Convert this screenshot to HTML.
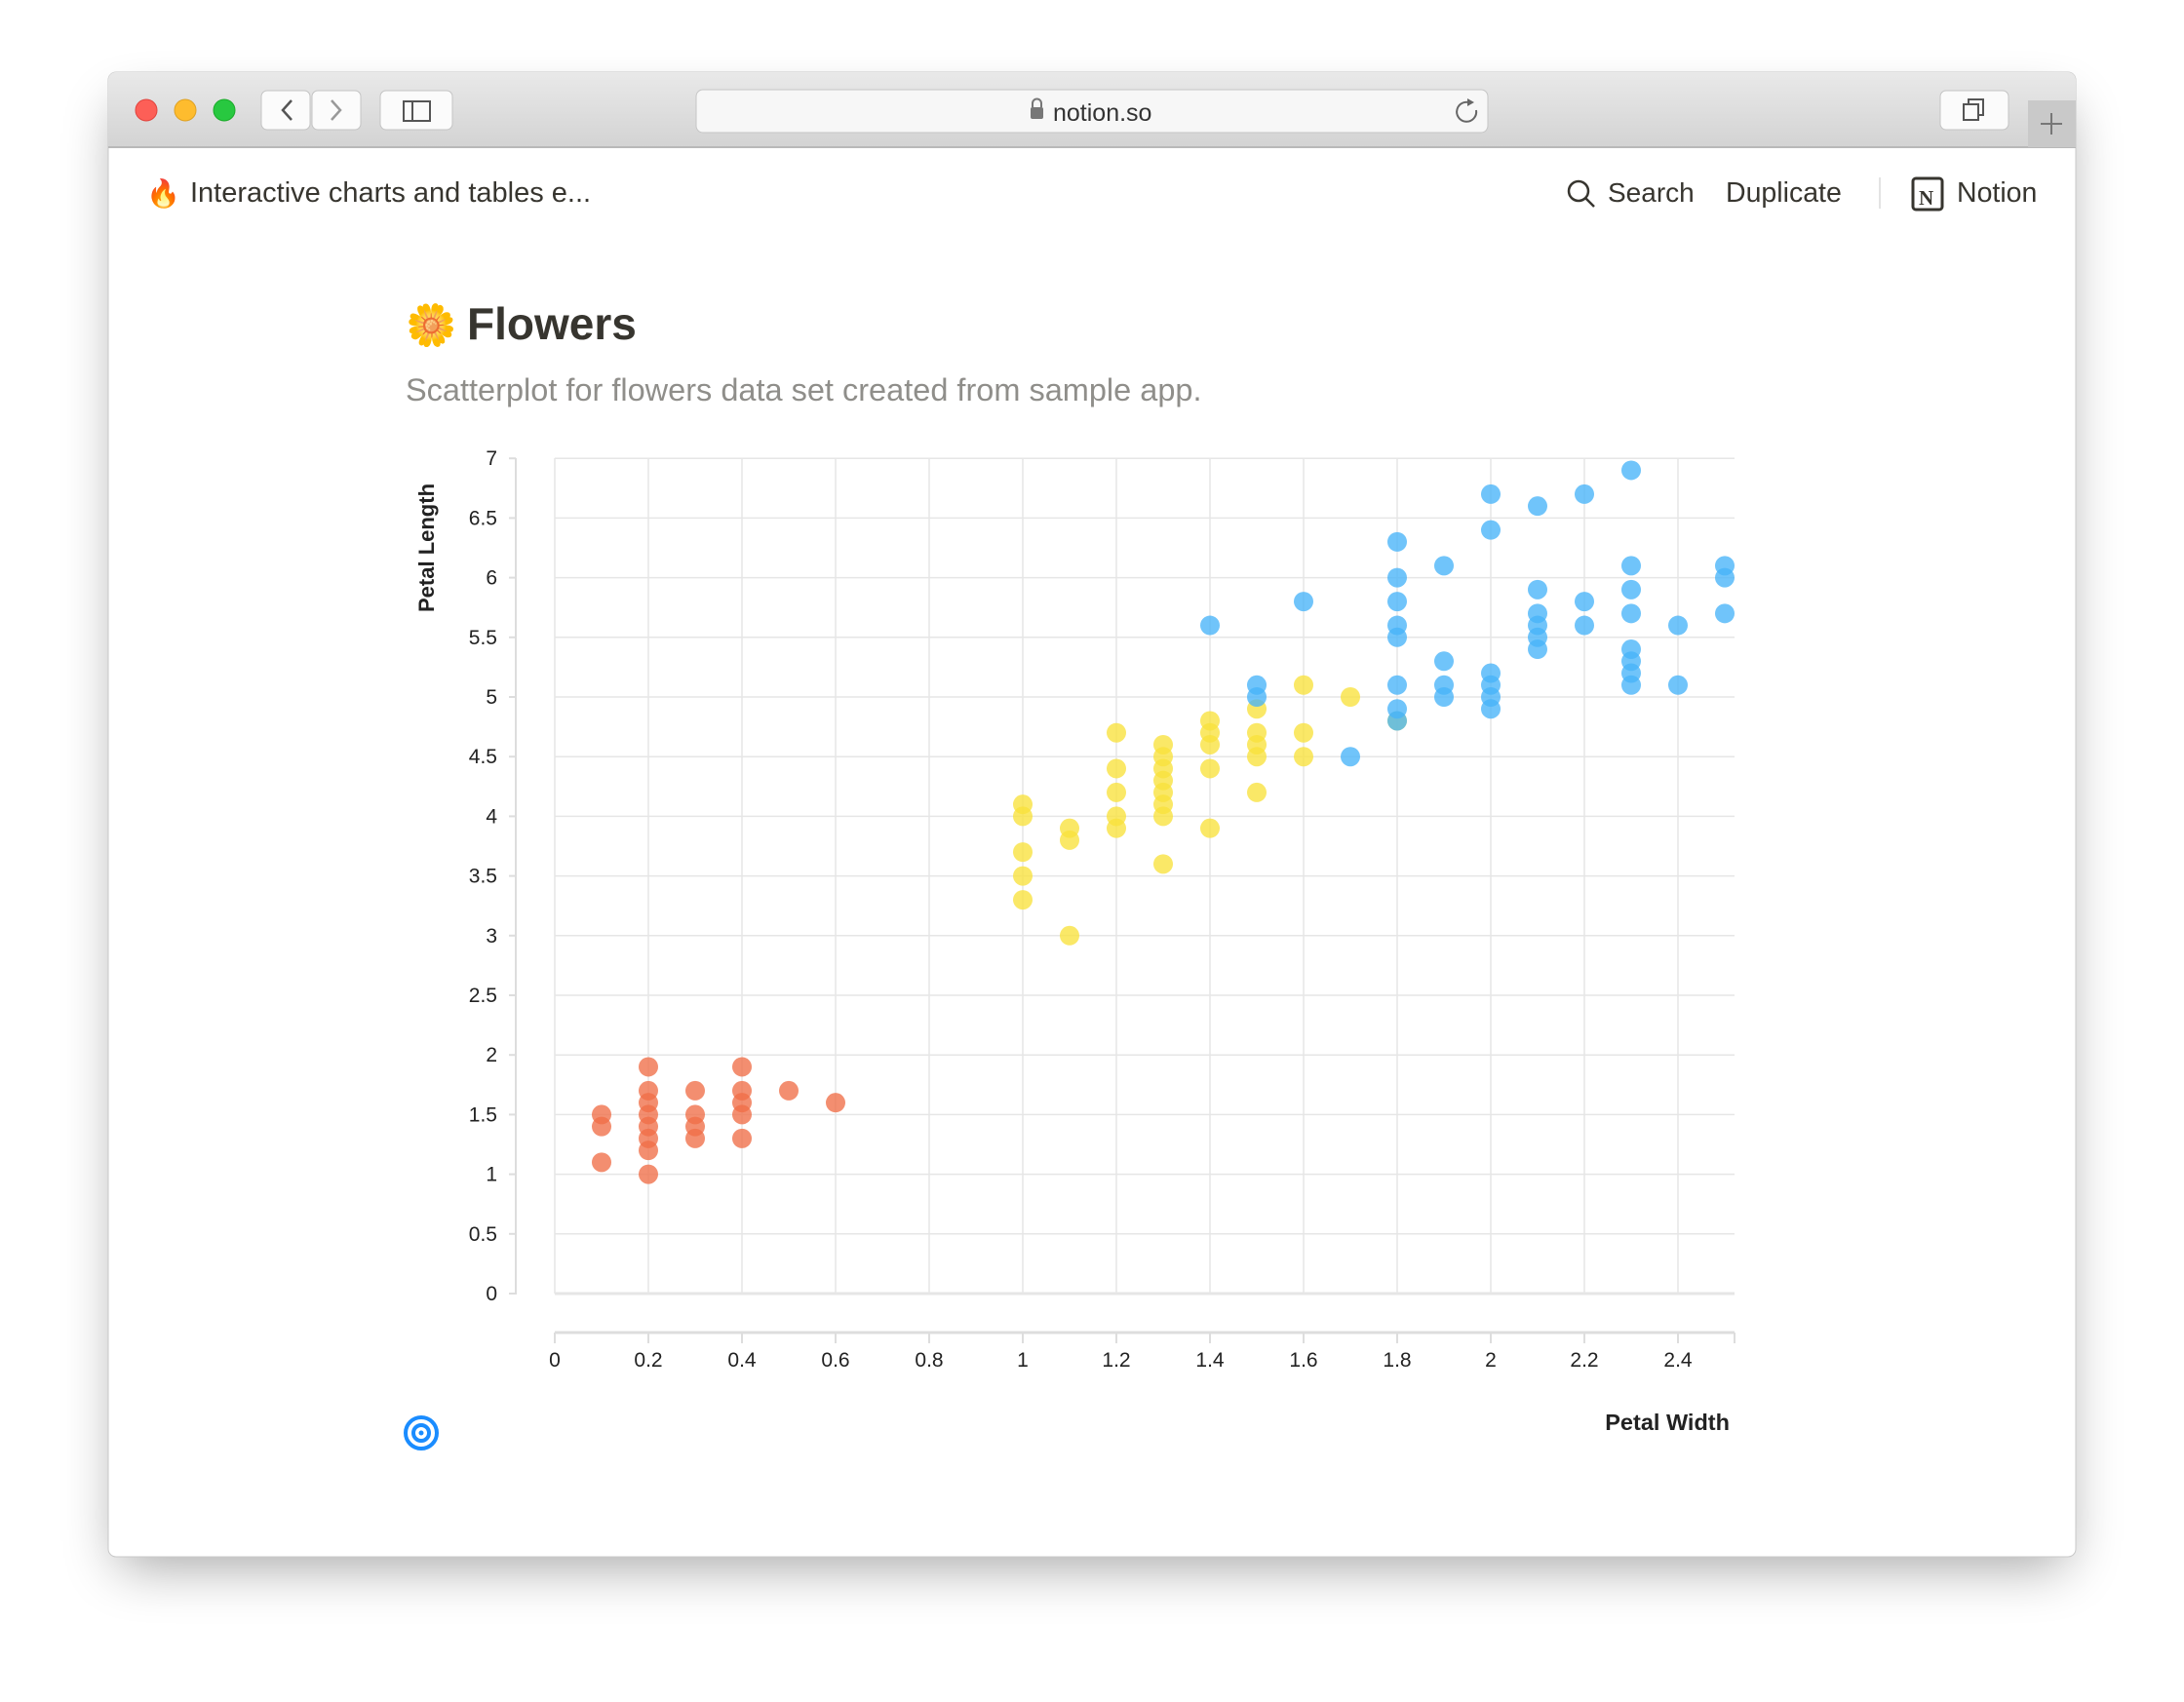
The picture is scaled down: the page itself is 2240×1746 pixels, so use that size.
<!DOCTYPE html>
<html><head><meta charset="utf-8"><style>
body{margin:0;width:2240px;height:1746px;background:#fff;overflow:hidden;font-family:"Liberation Sans",sans-serif;}
</style></head><body>
<svg width="2240" height="1746" xmlns="http://www.w3.org/2000/svg" style="position:absolute;left:0;top:0">
<defs>
<filter id="sh" x="-10%" y="-10%" width="120%" height="130%"><feGaussianBlur stdDeviation="28"/></filter>
<linearGradient id="tb" x1="0" y1="0" x2="0" y2="1"><stop offset="0" stop-color="#e9e9e9"/><stop offset="1" stop-color="#d3d3d3"/></linearGradient>
</defs>
<rect x="121" y="110" width="1998" height="1497" fill="#000" opacity="0.35" filter="url(#sh)"/>
<rect x="111" y="74" width="2018" height="1523" rx="8" fill="#fff" stroke="#c8c8c8"/>
<path d="M111 151 V82 a8 8 0 0 1 8 -8 H2121 a8 8 0 0 1 8 8 V151 Z" fill="url(#tb)"/>
<line x1="111" y1="151" x2="2129" y2="151" stroke="#b8b8b8" stroke-width="2"/>
<circle cx="150" cy="113" r="11" fill="#fd5f57" stroke="#e0443e"/>
<circle cx="190" cy="113" r="11" fill="#febc2e" stroke="#dea123"/>
<circle cx="230" cy="113" r="11" fill="#28c840" stroke="#1aab29"/>
<rect x="268" y="93" width="50" height="40" rx="6" fill="#fbfbfb" stroke="#c4c4c4"/>
<rect x="320" y="93" width="50" height="40" rx="6" fill="#fbfbfb" stroke="#c4c4c4"/>
<path d="M299 103 L290 113 L299 123" fill="none" stroke="#555" stroke-width="2.5"/>
<path d="M340 103 L349 113 L340 123" fill="none" stroke="#999" stroke-width="2.5"/>
<rect x="390" y="93" width="74" height="40" rx="6" fill="#fbfbfb" stroke="#c4c4c4"/>
<rect x="414" y="104" width="27" height="20" fill="none" stroke="#555" stroke-width="2"/><line x1="423" y1="104" x2="423" y2="124" stroke="#555" stroke-width="2"/>
<rect x="714" y="92" width="812" height="44" rx="7" fill="#f7f7f7" stroke="#c6c6c6"/>
<rect x="1057" y="110" width="13" height="12" rx="2" fill="#777"/><path d="M1059 110 v-4 a4.5 4.5 0 0 1 9 0 v4" fill="none" stroke="#777" stroke-width="2"/>
<text x="1080" y="124" font-size="25" fill="#333">notion.so</text>
<path d="M1509 106 a10 10 0 1 0 5 7" fill="none" stroke="#666" stroke-width="2"/><path d="M1505 101 l7 4 -7 4z" fill="#666"/>
<rect x="1990" y="93" width="70" height="40" rx="6" fill="#fbfbfb" stroke="#c4c4c4"/>
<rect x="2014" y="107" width="15" height="16" fill="none" stroke="#555" stroke-width="2"/><path d="M2019 107 v-5 h15 v16 h-5" fill="none" stroke="#555" stroke-width="2"/>
<rect x="2080" y="103" width="49" height="48" fill="#c9c9c9"/>
<path d="M2104 116 v22 M2093 127 h22" stroke="#777" stroke-width="2"/>
<text x="150" y="208" font-size="28">🔥</text>
<text x="195" y="207" font-size="29" fill="#37352f">Interactive charts and tables e...</text>
<circle cx="1619" cy="196" r="10" fill="none" stroke="#37352f" stroke-width="2.5"/><line x1="1626" y1="203" x2="1635" y2="212" stroke="#37352f" stroke-width="2.5"/>
<text x="1649" y="207" font-size="28" fill="#37352f">Search</text>
<text x="1770" y="207" font-size="28.5" fill="#37352f">Duplicate</text>
<line x1="1928" y1="182" x2="1928" y2="214" stroke="#e3e3e3" stroke-width="2"/>
<rect x="1962" y="183" width="30" height="32" rx="3" fill="#fff" stroke="#37352f" stroke-width="3"/>
<text x="1968" y="210" font-size="21" font-weight="bold" font-family="Liberation Serif" fill="#37352f">N</text>
<text x="2007" y="207" font-size="28.5" fill="#37352f">Notion</text>
<text x="416" y="348" font-size="42">🌼</text>
<text x="479" y="348" font-size="46" font-weight="bold" fill="#37352f">Flowers</text>
<text x="416" y="411" font-size="32.5" fill="#8f8e8a">Scatterplot for flowers data set created from sample app.</text>
<g id="chart"></g>
<text transform="translate(445 562) rotate(-90)" text-anchor="middle" font-size="22" font-weight="bold" fill="#222">Petal Length</text>
<text x="1774" y="1467" text-anchor="end" font-size="23.5" font-weight="bold" fill="#222">Petal Width</text>
<circle cx="432" cy="1470" r="16" fill="none" stroke="#1a8cff" stroke-width="4"/>
<circle cx="432" cy="1470" r="8" fill="none" stroke="#1a8cff" stroke-width="4"/>
<circle cx="432" cy="1470" r="2.5" fill="#1a8cff"/>
</svg>
<script>
var g=document.getElementById('chart'),ns='http://www.w3.org/2000/svg';
function el(t,a){var e=document.createElementNS(ns,t);for(var k in a)e.setAttribute(k,a[k]);g.appendChild(e);return e;}
var X0=569,XS=480,Y0=1327,YS=122.4,XR=1779;
function px(v){return X0+v*XS;} function py(v){return Y0-v*YS;}
for(var i=0;i<=14;i++){var v=i*0.5,y=py(v);
 el('line',{x1:X0,x2:XR,y1:y,y2:y,stroke:'#e6e6e6','stroke-width':(i==0?3:1.5)});
 el('line',{x1:522,x2:529,y1:y,y2:y,stroke:'#ddd','stroke-width':2});
 var t=el('text',{x:510,y:y+7,'text-anchor':'end','font-size':21,fill:'#222'});t.textContent=String(v);}
el('line',{x1:529,x2:529,y1:470,y2:1328,stroke:'#ddd','stroke-width':2});
for(var i=0;i<=12;i++){var v=Math.round(i*0.2*10)/10,x=px(v);
 el('line',{x1:x,x2:x,y1:470,y2:1327,stroke:'#e6e6e6','stroke-width':1.5});
 el('line',{x1:x,x2:x,y1:1367,y2:1378,stroke:'#ddd','stroke-width':2});
 var t=el('text',{x:x,y:1402,'text-anchor':'middle','font-size':21,fill:'#222'});t.textContent=String(v);}
el('line',{x1:XR,x2:XR,y1:1367,y2:1378,stroke:'#ddd','stroke-width':2});
el('line',{x1:X0,x2:XR,y1:1367,y2:1367,stroke:'#ddd','stroke-width':3});
var s="1.4,.2;1.4,.2;1.3,.2;1.5,.2;1.4,.2;1.7,.4;1.4,.3;1.5,.2;1.4,.2;1.5,.1;1.5,.2;1.6,.2;1.4,.1;1.1,.1;1.2,.2;1.5,.4;1.3,.4;1.4,.3;1.7,.3;1.5,.3;1.7,.2;1.5,.4;1.0,.2;1.7,.5;1.9,.2;1.6,.2;1.6,.4;1.5,.2;1.4,.2;1.6,.2;1.6,.2;1.5,.4;1.5,.1;1.4,.2;1.5,.2;1.2,.2;1.3,.2;1.4,.1;1.3,.2;1.5,.2;1.3,.3;1.3,.3;1.3,.2;1.6,.6;1.9,.4;1.4,.3;1.6,.2;1.4,.2;1.5,.2;1.4,.2";
var ve="4.7,1.4;4.5,1.5;4.9,1.5;4.0,1.3;4.6,1.5;4.5,1.3;4.7,1.6;3.3,1.0;4.6,1.3;3.9,1.4;3.5,1.0;4.2,1.5;4.0,1.0;4.7,1.4;3.6,1.3;4.4,1.4;4.5,1.5;4.1,1.0;4.5,1.5;3.9,1.1;4.8,1.8;4.0,1.3;4.9,1.5;4.7,1.2;4.3,1.3;4.4,1.4;4.8,1.4;5.0,1.7;4.5,1.5;3.5,1.0;3.8,1.1;3.7,1.0;3.9,1.2;5.1,1.6;4.5,1.5;4.5,1.6;4.7,1.5;4.4,1.3;4.1,1.3;4.0,1.3;4.4,1.2;4.6,1.4;4.0,1.2;3.3,1.0;4.2,1.3;4.2,1.2;4.2,1.3;4.3,1.3;3.0,1.1;4.1,1.3";
var vi="6.0,2.5;5.1,1.9;5.9,2.1;5.6,1.8;5.8,2.2;6.6,2.1;4.5,1.7;6.3,1.8;5.8,1.8;6.1,2.5;5.1,2.0;5.3,1.9;5.5,2.1;5.0,2.0;5.1,2.4;5.3,2.3;5.5,1.8;6.7,2.2;6.9,2.3;5.0,1.5;5.7,2.3;4.9,2.0;6.7,2.0;4.9,1.8;5.7,2.1;6.0,1.8;4.8,1.8;4.9,1.8;5.6,2.1;5.8,1.6;6.1,1.9;6.4,2.0;5.6,2.2;5.1,1.5;5.6,1.4;6.1,2.3;5.6,2.4;5.5,1.8;4.8,1.8;5.4,2.1;5.6,2.4;5.1,2.3;5.1,1.9;5.9,2.3;5.7,2.5;5.2,2.3;5.0,1.9;5.2,2.0;5.4,2.3;5.1,1.8";
function plot(str,c){var seen={};str.split(';').forEach(function(p){if(seen[p])return;seen[p]=1;var a=p.split(',');
 el('circle',{cx:px(+a[1]),cy:py(+a[0]),r:10,fill:c,'fill-opacity':0.78});});}
plot(s,'#f06e48');plot(ve,'#f8e13c');plot(vi,'#48b4f8');
</script>
</body></html>
